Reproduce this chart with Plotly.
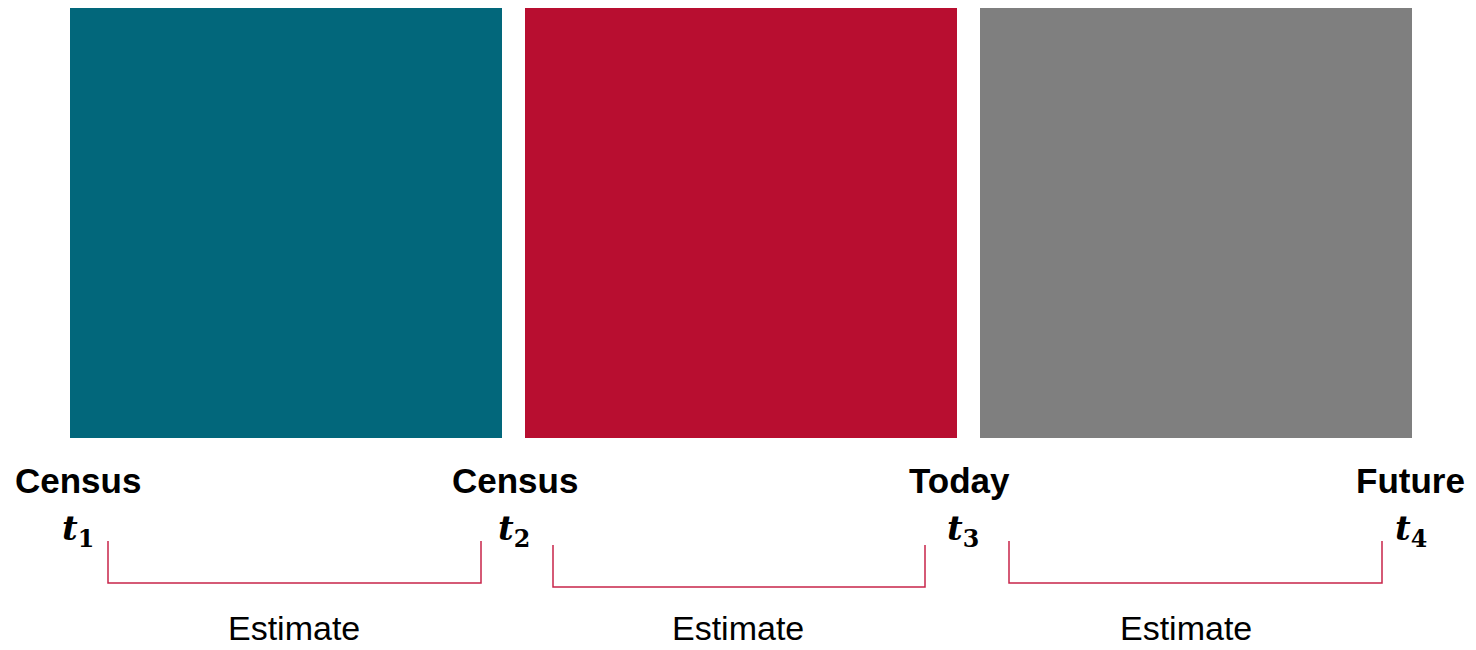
import plotly.graph_objects as go

# data
periods = ["Census to Census", "Census to Today", "Today to Future"]
period_colors = ["#02677B", "#B80E30", "#7F7F7F"]
points = ["Census", "Census", "Today", "Future"]
point_subs = ["1", "2", "3", "4"]
span_label = ["Estimate", "Estimate", "Estimate"]

W, H = 1476, 650
OFF = 8  # page body margin
# layout in page pixels (y measured from top)
sq_left = [70, 525, 980]
sq_size = 432
sq_top = 6
pt_x = [78, 515, 959, 1410]
tsub_x = [78, 514, 963, 1411]
br_left = [108, 553, 1009]
br_right = [481, 925, 1382]
br_top = [541, 545, 541]
br_bot = [583, 587, 583]
est_x = [294, 738, 1186]

sans = "Liberation Sans, Arial, sans-serif"


def fy(py):
    return H - py


fig = go.Figure()

fig.add_trace(go.Bar(
    x=[l + sq_size / 2 for l in sq_left],
    y=[sq_size] * len(periods),
    base=[fy(sq_top + sq_size)] * len(periods),
    width=sq_size,
    marker=dict(color=period_colors, line=dict(width=0)),
    hovertext=periods,
    showlegend=False,
))

for i in range(len(periods)):
    fig.add_trace(go.Scatter(
        x=[br_left[i], br_left[i], br_right[i], br_right[i]],
        y=[fy(br_top[i]), fy(br_bot[i]), fy(br_bot[i]), fy(br_top[i])],
        mode="lines",
        line=dict(color="#C8254A", width=1.5),
        showlegend=False,
        hoverinfo="skip",
    ))
    fig.add_annotation(x=est_x[i], y=fy(628), text=span_label[i], showarrow=False,
                       font=dict(family=sans, size=34, color="#000000"))

for i in range(len(points)):
    fig.add_annotation(x=pt_x[i], y=fy(480), text="<b>" + points[i] + "</b>", showarrow=False,
                       font=dict(family=sans, size=35, color="#000000"))
    fig.add_annotation(x=tsub_x[i], y=fy(530), text="<b><i>t</i><sub>" + point_subs[i] + "</sub></b>",
                       showarrow=False,
                       font=dict(family="DejaVu Serif", size=34, color="#000000"))

fig.update_layout(
    width=W, height=H,
    margin=dict(l=0, r=0, t=0, b=0),
    plot_bgcolor="white", paper_bgcolor="white",
    xaxis=dict(range=[OFF, W + OFF], visible=False, fixedrange=True),
    yaxis=dict(range=[-OFF, H - OFF], visible=False, fixedrange=True),
    bargap=0,
)

fig.write_html("out.html")
